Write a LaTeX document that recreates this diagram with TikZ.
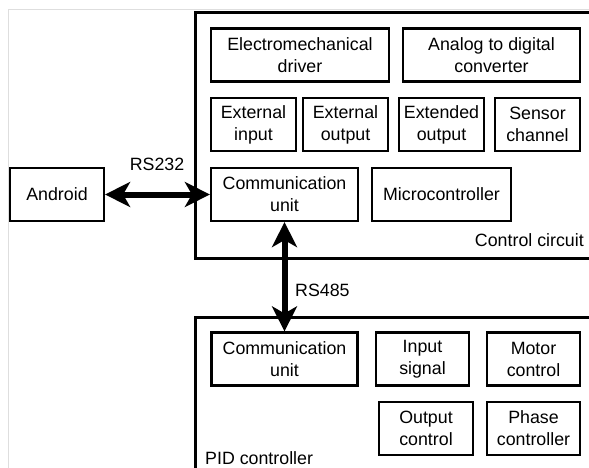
\documentclass[tikz,border=0pt]{standalone}
\usepackage{fontspec}
\setmainfont{Liberation Sans}
\usepackage{tikz}
\usetikzlibrary{positioning,calc,arrows.meta}

\begin{document}
\begin{tikzpicture}[x=1pt, y=-1pt,
    txt/.style={font=\fontsize{17.8}{22}\selectfont},
    blk/.style={txt, draw, line width=2.2pt, align=center, inner sep=0pt, minimum height=53pt},
    frame/.style={draw, line width=3pt},
    lbl/.style={txt, inner sep=0pt},
    bus/.style={line width=6pt, {Stealth[length=25pt,width=25pt,inset=7pt]}-{Stealth[length=25pt,width=25pt,inset=7pt]}}]
    \useasboundingbox (0,0) rectangle (589,468);
    \clip (0,0) rectangle (589,468);

    % Cadre de la page
    \draw[black!13, line width=1pt] (8,470) -- (8,10) -- (589,10);

    % Control circuit
    \draw[frame] (195,13) rectangle (600,258);
    \node[lbl, anchor=east] (cclabel) at (584,240) {Control circuit};
    \node[blk, minimum width=178pt] (emdrv) at (300,55) {Electromechanical\\driver};
    \node[blk, minimum width=177pt] (adc) at (491.5,55) {Analog to digital\\converter};
    \node[blk, minimum width=85pt] (extin) at (253.5,124.5) {External\\input};
    \node[blk, minimum width=85pt] (extout) at (345.5,124.5) {External\\output};
    \node[blk, minimum width=85pt] (extdout) at (441.5,124.5) {Extended\\output};
    \node[blk, minimum width=85pt] (sensor) at (537.5,124.5) {Sensor\\channel};
    \node[blk, minimum width=147pt] (commA) at (284.5,194.5) {Communication\\unit};
    \node[blk, minimum width=139pt] (mcu) at (441.5,194.5) {Microcontroller};

    % Android
    \node[blk, minimum width=94pt] (android) at (57,194.5) {Android};

    % PID controller
    \draw[frame] (195,317) rectangle (600,480);
    \node[lbl, anchor=west] (pidlabel) at (205,458) {PID controller};
    \node[blk, minimum width=146pt] (commB) at (284.5,359) {Communication\\unit};
    \node[blk, minimum width=93pt] (insig) at (422.5,359) {Input\\signal};
    \node[blk, minimum width=93pt] (motor) at (533.5,359) {Motor\\control};
    \node[blk, minimum width=94pt] (outctl) at (426,428.5) {Output\\control};
    \node[blk, minimum width=93pt] (phase) at (533.5,428.5) {Phase\\controller};

    % Liaisons
    \draw[bus] (android) -- (commA);
    \node[lbl] (rs232) at (157,164) {RS232};
    \draw[bus] (commA) -- (commB);
    \node[lbl, anchor=west] (rs485) at (295,290) {RS485};
\end{tikzpicture}
\end{document}
